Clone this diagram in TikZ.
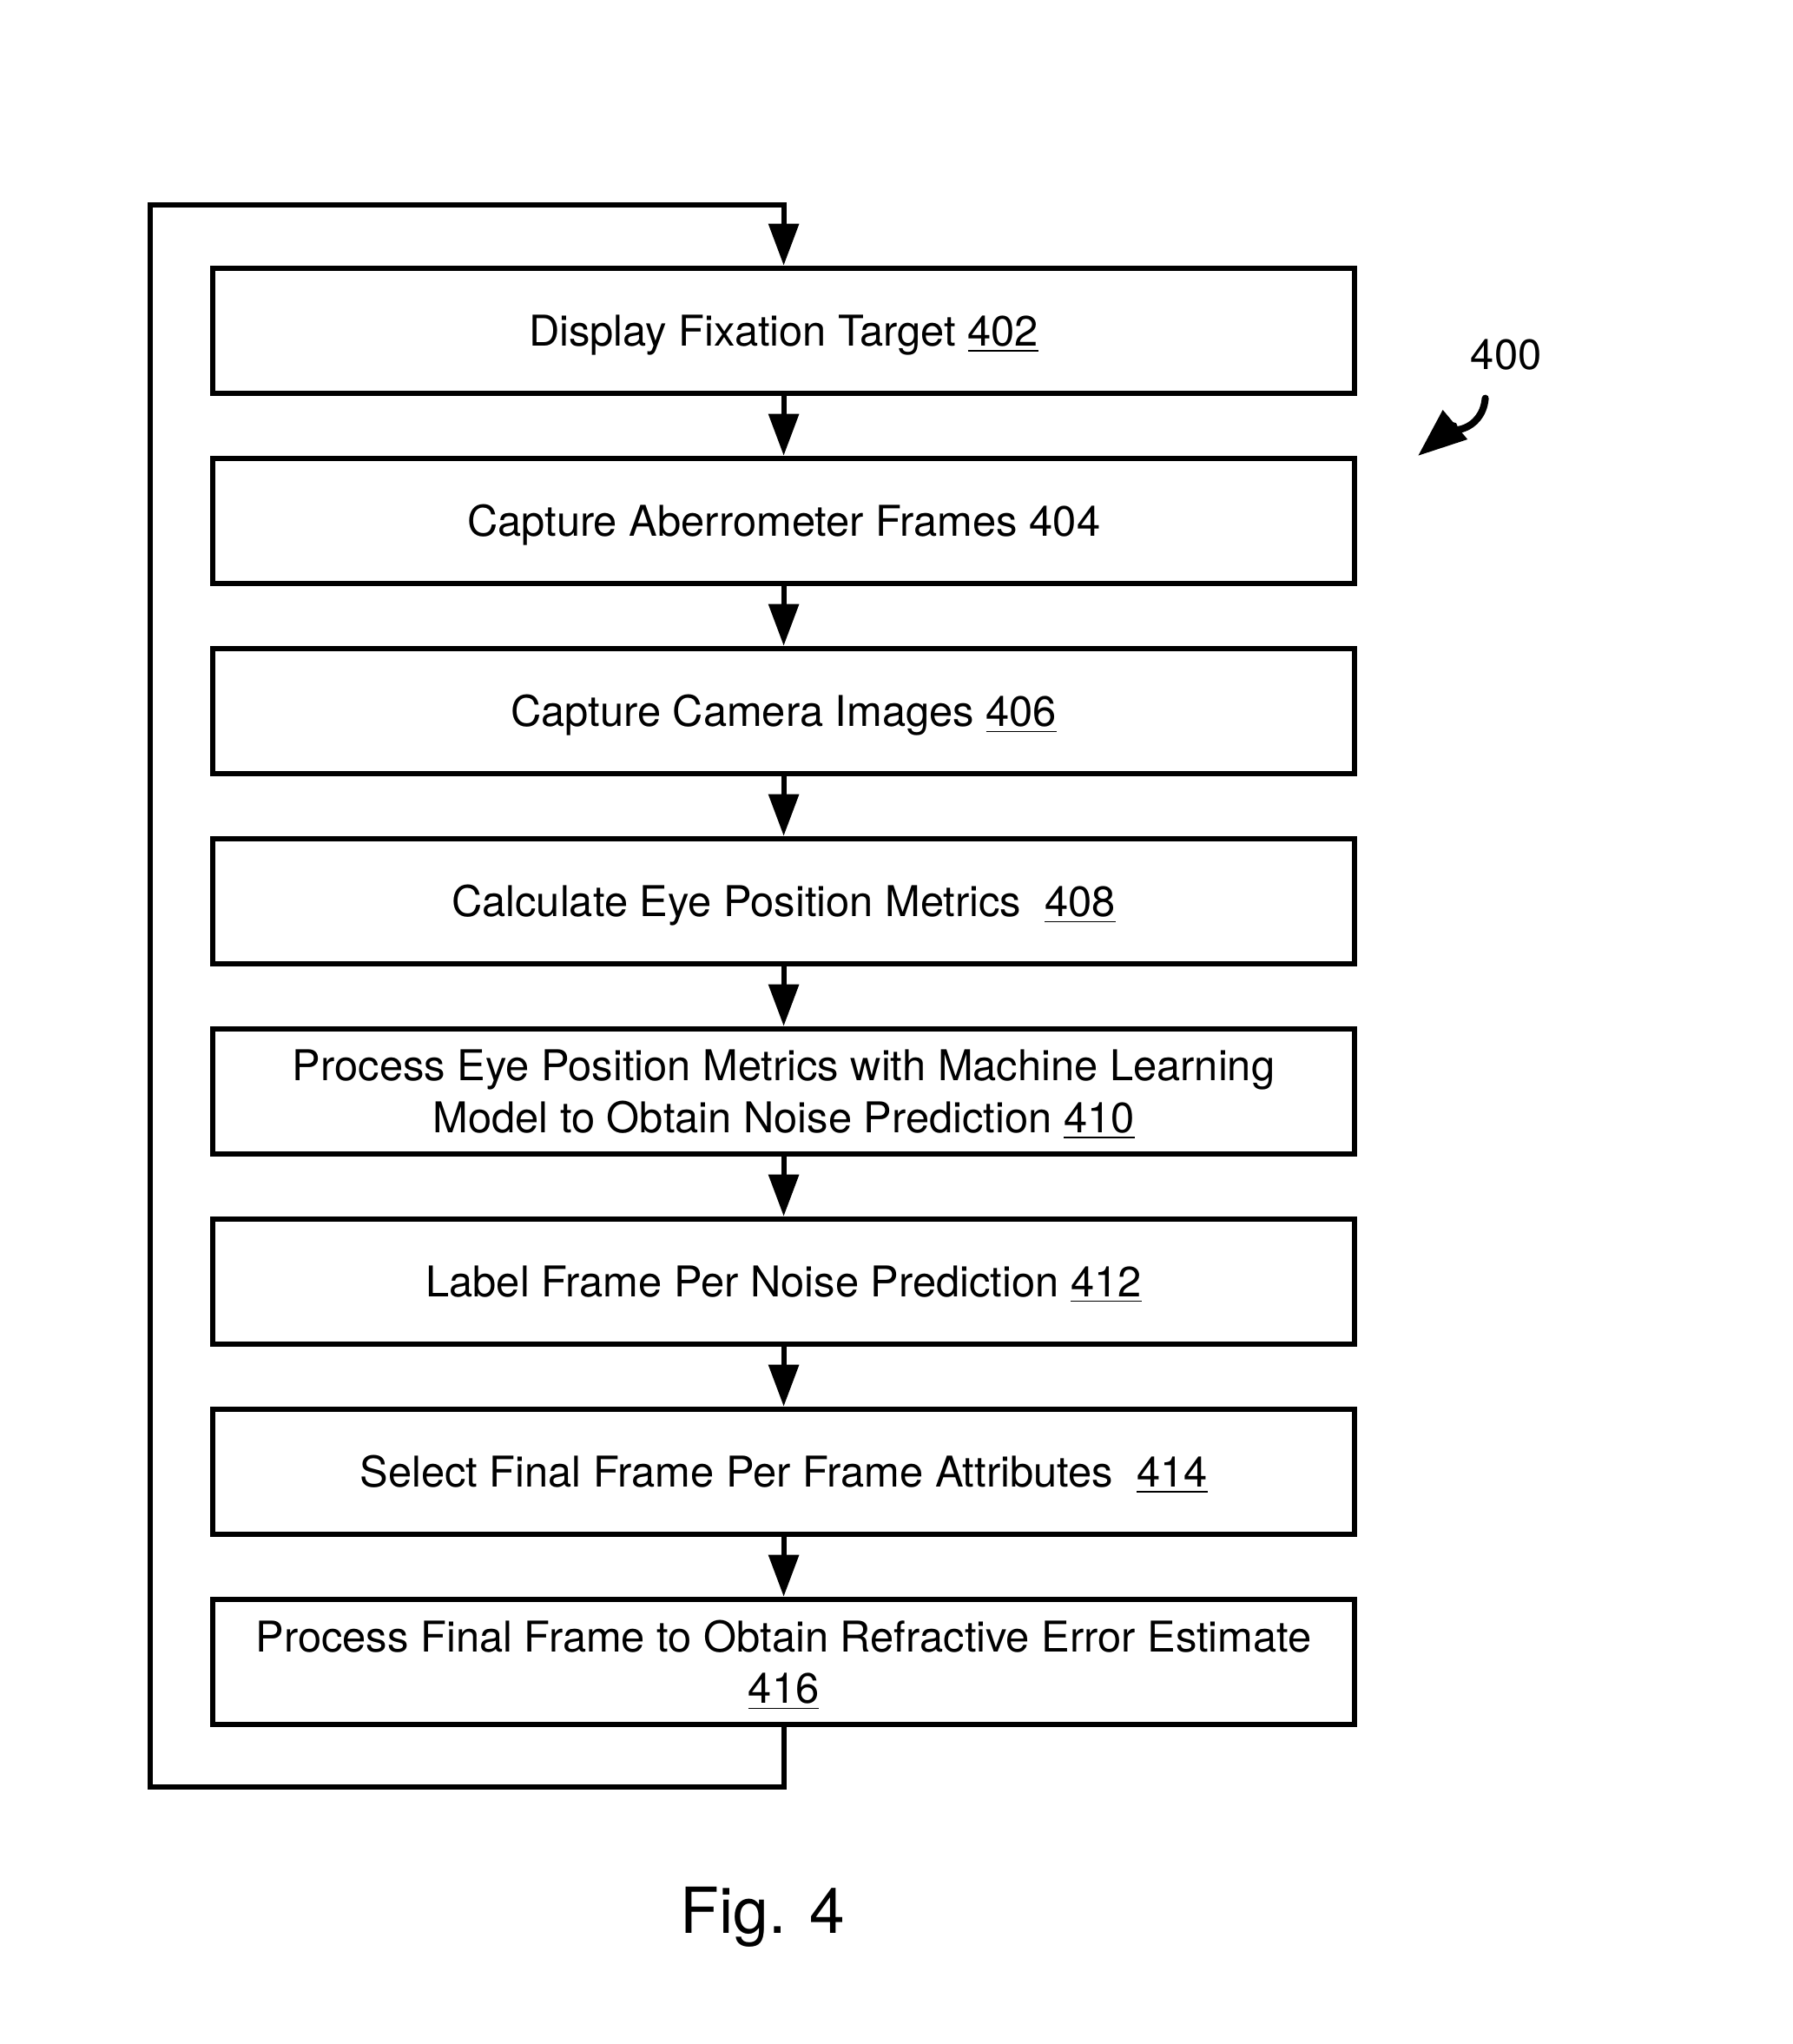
\documentclass[tikz,border=0pt]{standalone}
\usepackage{fontspec}
\setmainfont{TeX Gyre Heros}
\usetikzlibrary{arrows.meta}
\begin{document}
\begin{tikzpicture}[
	procbox/.style = {draw, line width=1.7pt, minimum width=13.15cm, minimum height=1.44cm,
		inner sep=0pt, text depth=0pt, align=center, font=\fontsize{13.9}{17}\selectfont},
	flow/.style = {line width=1.7pt, -{Triangle[length=0.48cm, width=0.34cm]}},
	]
	\useasboundingbox (0,0) rectangle (20.65,-23.54);
	% the steps
	\node[procbox] (b402) at (9.026, -3.807) {Display Fixation Target \underline{402}};
	\node[procbox] (b404) at (9.026, -5.997) {Capture Aberrometer Frames 404};
	\node[procbox] (b406) at (9.026, -8.187) {Capture Camera Images \underline{406}};
	\node[procbox] (b408) at (9.026, -10.377) {Calculate Eye Position Metrics\ \ \underline{408}};
	\node[procbox] (b410) at (9.026, -12.567) {Process Eye Position Metrics with Machine Learning\\
		Model to Obtain Noise Prediction \underline{410}};
	\node[procbox] (b412) at (9.026, -14.757) {Label Frame Per Noise Prediction \underline{412}};
	\node[procbox] (b414) at (9.026, -16.947) {Select Final Frame Per Frame Attributes\ \ \underline{414}};
	\node[procbox] (b416) at (9.026, -19.137) {Process Final Frame to Obtain Refractive Error Estimate\\
		\underline{416}};
	\foreach \a/\b in {402/404, 404/406, 406/408, 408/410, 410/412, 412/414, 414/416}
		\draw[flow] (b\a) -- (b\b);
	% loop back to the top
	\coordinate (lowleft) at (1.727, -20.575);
	\coordinate (upleft) at (1.727, -2.358);
	\draw[flow] (b416.south) |- (lowleft) -- (upleft) -| (b402.north);
	% reference numeral
	\node[font=\fontsize{13.9}{17}\selectfont] (n400) at (17.346, -4.085) {400};
	\coordinate (n400tip) at (16.33, -5.25);
	\draw[line width=2.3pt, line cap=round, -{Triangle[length=0.56cm, width=0.42cm]}]
		(n400.south) ++(-0.24,-0.20) to[out=-95, in=40] (n400tip);
	\node[font=\fontsize{20.8}{25}\selectfont] (fig) at (8.786, -22.076) {Fig. 4};
\end{tikzpicture}
\end{document}
